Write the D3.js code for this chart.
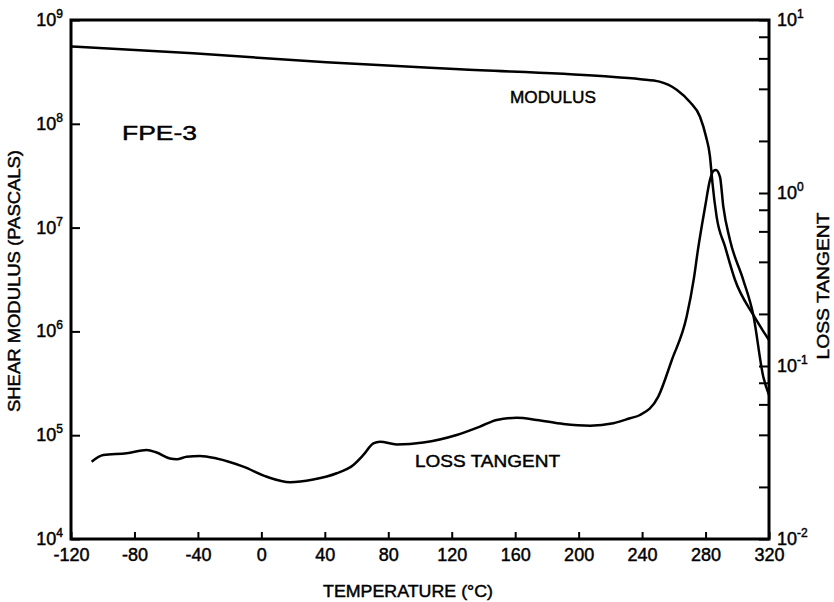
<!DOCTYPE html>
<html>
<head>
<meta charset="utf-8">
<script src="https://cdn.jsdelivr.net/npm/d3@7"></script>
<style>
  html, body { margin: 0; padding: 0; background: #fff; }
  svg { display: block; }
  text { font-family: "Liberation Sans", Arial, sans-serif; fill: #000; stroke: #000; stroke-width: 0.45px; }
</style>
</head>
<body>
<svg id="chart" width="834" height="602"></svg>
<script>
// Temperature ticks (°C)
const tempTicks = [-120, -80, -40, 0, 40, 80, 120, 160, 200, 240, 280, 320];

// Shear modulus (Pa) vs temperature
const modulusTemp = [-120, -43, 41, 125, 214, 239, 251, 262, 270, 276.5, 280.3, 282.8, 283.6, 284.3, 287, 292.3, 298.6, 310.1, 320];
const modulusPa = [5.56e8, 4.78e8, 3.91e8, 3.35e8, 2.88e8, 2.69e8, 2.55e8, 2.12e8, 1.63e8, 1.17e8, 7.52e7, 4.82e7, 3.59e7, 2.75e7, 1.27e7, 6.55e6, 3.13e6, 1.44e6, 8.26e5];

// Loss tangent vs temperature
const lossTemp = [-107, -99.6, -84.9, -72.3, -66, -57.6, -53.4, -47.1, -38.7, -28.2, -11.4, 3.4, 18.1, 32.7, 47.5, 58, 64.3, 70.6, 74.8, 85.3, 102.1, 123.1, 137.8, 148.3, 161, 173.6, 190.4, 207.2, 221.9, 232.4, 238.7, 250.2, 258.7, 268.1, 272.7, 275.2, 279.7, 282.8, 284.9, 286.6, 289.1, 291.2, 295.4, 303.8, 310.1, 316.4, 320];
const lossTan = [0.0280, 0.0306, 0.0313, 0.0327, 0.0316, 0.0292, 0.0289, 0.0299, 0.0302, 0.0292, 0.0262, 0.0229, 0.0213, 0.0221, 0.0240, 0.0268, 0.0306, 0.0357, 0.0365, 0.0352, 0.0361, 0.0399, 0.0446, 0.0488, 0.0502, 0.0488, 0.0462, 0.0452, 0.0467, 0.0499, 0.0521, 0.0665, 0.108, 0.193, 0.323, 0.469, 0.830, 1.19, 1.34, 1.36, 1.24, 0.834, 0.535, 0.314, 0.197, 0.0867, 0.0679];

// Axis tick values
const modulusDecades = [1e4, 1e5, 1e6, 1e7, 1e8, 1e9];
const modulusExp = ["4", "5", "6", "7", "8", "9"];
const lossDecades = [1e-2, 1e-1, 1e0, 1e1];
const lossExp = ["-2", "-1", "0", "1"];
const lossMinor = [2e-2, 4e-2, 6e-2, 8e-2, 2e-1, 4e-1, 6e-1, 8e-1, 2, 4, 6, 8];

const plotLeft = 71, plotRight = 769, plotTop = 20, plotBottom = 539;

const svg = d3.select("#chart");

const x = d3.scaleLinear().domain([-120, 320]).range([plotLeft, plotRight]);
const yL = d3.scaleLog().domain([1e4, 1e9]).range([plotBottom, plotTop]);
const yR = d3.scaleLog().domain([1e-2, 1e1]).range([plotBottom, plotTop]);

// Bottom axis: inward ticks, labels below
const gx = svg.append("g")
  .attr("transform", `translate(0,${plotBottom})`)
  .call(d3.axisBottom(x).tickValues(tempTicks).tickSize(-7).tickPadding(9)
    .tickFormat(d => d));
gx.select(".domain").remove();
gx.selectAll("line").attr("stroke", "#000").attr("stroke-width", 2);
gx.selectAll("text").attr("font-size", 18).attr("font-family", "Liberation Sans, Arial, sans-serif");

// Left axis: decade ticks, labels drawn as 10 with superscript
const gl = svg.append("g")
  .attr("transform", `translate(${plotLeft},0)`)
  .call(d3.axisLeft(yL).tickValues(modulusDecades).tickSize(-9).tickFormat(""));
gl.select(".domain").remove();
gl.selectAll("line").attr("stroke", "#000").attr("stroke-width", 2);

modulusDecades.forEach((v, i) => {
  const t = svg.append("text")
    .attr("x", 63).attr("y", yL(v) + 6)
    .attr("text-anchor", "end")
    .attr("font-size", 18);
  t.append("tspan").text("10");
  t.append("tspan").attr("font-size", 12).attr("dy", -8).text(modulusExp[i]);
});

// Right axis: decades plus 2,4,6,8 minor ticks
const gr = svg.append("g")
  .attr("transform", `translate(${plotRight},0)`)
  .call(d3.axisRight(yR).tickValues(lossDecades.concat(lossMinor)).tickSize(-10).tickFormat(""));
gr.select(".domain").remove();
gr.selectAll("line").attr("stroke", "#000").attr("stroke-width", 2);

lossDecades.forEach((v, i) => {
  const t = svg.append("text")
    .attr("x", 777).attr("y", yR(v) + 6)
    .attr("font-size", 18);
  t.append("tspan").text("10");
  t.append("tspan").attr("font-size", 12).attr("dy", -8).text(lossExp[i]);
});

// Plot frame
svg.append("rect")
  .attr("x", plotLeft).attr("y", plotTop)
  .attr("width", plotRight - plotLeft).attr("height", plotBottom - plotTop)
  .attr("fill", "none").attr("stroke", "#000").attr("stroke-width", 3);

// Curves
const modLine = d3.line()
  .x((d, i) => x(modulusTemp[i]))
  .y(d => yL(d))
  .curve(d3.curveMonotoneX);

const lossLine = d3.line()
  .x((d, i) => x(lossTemp[i]))
  .y(d => yR(d))
  .curve(d3.curveMonotoneX);

svg.append("path")
  .attr("d", modLine(modulusPa))
  .attr("fill", "none").attr("stroke", "#000").attr("stroke-width", 2.5)
  .attr("stroke-linejoin", "round");

svg.append("path")
  .attr("d", lossLine(lossTan))
  .attr("fill", "none").attr("stroke", "#000").attr("stroke-width", 2.5)
  .attr("stroke-linejoin", "round");

// Axis titles
svg.append("text")
  .attr("transform", "translate(20,281) rotate(-90)")
  .attr("text-anchor", "middle")
  .attr("font-size", 17)
  .attr("textLength", 262).attr("lengthAdjust", "spacingAndGlyphs")
  .text("SHEAR MODULUS (PASCALS)");

svg.append("text")
  .attr("x", 408).attr("y", 597)
  .attr("text-anchor", "middle")
  .attr("font-size", 17)
  .attr("textLength", 170).attr("lengthAdjust", "spacingAndGlyphs")
  .text("TEMPERATURE (°C)");

svg.append("text")
  .attr("transform", "translate(829,286) rotate(-90)")
  .attr("text-anchor", "middle")
  .attr("font-size", 17)
  .attr("textLength", 147).attr("lengthAdjust", "spacingAndGlyphs")
  .text("LOSS TANGENT");

// Curve annotations
svg.append("text")
  .attr("x", 510).attr("y", 103)
  .attr("font-size", 17)
  .attr("textLength", 86).attr("lengthAdjust", "spacingAndGlyphs")
  .text("MODULUS");

svg.append("text")
  .attr("x", 122).attr("y", 140)
  .attr("font-size", 21)
  .attr("textLength", 75).attr("lengthAdjust", "spacingAndGlyphs")
  .text("FPE-3");

svg.append("text")
  .attr("x", 415).attr("y", 467)
  .attr("font-size", 17)
  .attr("textLength", 145).attr("lengthAdjust", "spacingAndGlyphs")
  .text("LOSS TANGENT");
</script>
</body>
</html>
